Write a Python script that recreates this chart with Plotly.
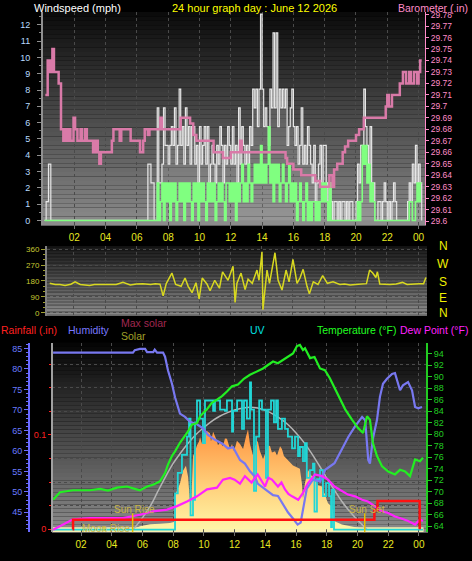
import plotly.graph_objects as go

W, H = 472, 561


def fx(px):
    return px / W


def fy(py):
    return 1 - py / H


# ---------------- data ----------------
X_TICKS = [2, 4, 6, 8, 10, 12, 14, 16, 18, 20, 22, 24]
X_TICK_TEXT = ["02", "04", "06", "08", "10", "12", "14", "16", "18", "20", "22", "00"]

WIND_T = [0.1, 0.2, 0.35, 0.5,
          6.6, 6.7, 6.8, 6.9,
          7.0, 7.1, 7.2, 7.3, 7.4, 7.5, 7.6, 7.7, 7.8, 7.9,
          8.0, 8.1, 8.2, 8.3, 8.4, 8.5, 8.6, 8.7, 8.8, 8.9,
          9.0, 9.1, 9.2, 9.3, 9.4, 9.5, 9.6, 9.7, 9.8, 9.9,
          10.0, 10.1, 10.2, 10.3, 10.4, 10.5, 10.6, 10.7, 10.8, 10.9,
          11.0, 11.1, 11.2, 11.3, 11.4, 11.5, 11.6, 11.7, 11.8, 11.9,
          12.0, 12.1, 12.2, 12.3, 12.4, 12.5, 12.6, 12.7, 12.8, 12.9,
          13.0, 13.1, 13.2, 13.3, 13.4, 13.5, 13.6, 13.7, 13.8, 13.9,
          14.0, 14.1, 14.2, 14.3, 14.4, 14.5, 14.6, 14.7, 14.8, 14.9,
          15.0, 15.1, 15.2, 15.3, 15.4, 15.5, 15.6, 15.7, 15.8, 15.9,
          16.0, 16.1, 16.2, 16.3, 16.4, 16.5, 16.6, 16.7, 16.8, 16.9,
          17.0, 17.1, 17.2, 17.3, 17.4, 17.5, 17.6, 17.7, 17.8, 17.9,
          18.0, 18.1, 18.2, 18.3, 18.4, 18.5, 18.6, 18.7, 18.8, 18.9,
          19.0, 19.1, 19.2, 19.3, 19.4, 19.5, 19.6, 19.7, 19.8, 19.9,
          20.0, 20.1, 20.2, 20.3, 20.4, 20.5, 20.6, 20.7, 20.8, 20.9,
          21.0, 21.1, 21.2, 21.3, 21.4, 21.5, 21.6, 21.7, 21.8, 21.9,
          22.0, 22.1, 22.2, 22.3, 22.4, 22.5, 22.6, 22.7, 22.8, 22.9,
          23.0, 23.1, 23.2, 23.3, 23.4, 23.5, 23.6, 23.7, 23.8, 23.9,
          24.0, 24.1, 24.2]

WIND_GUST = [0, 1.15, 3.45, 0,
             0, 3.45, 3.45, 2.3,
             2.3, 0, 0, 6.9, 2.3, 2.3, 3.45, 6.9, 4.6, 4.6,
             3.45, 4.6, 5.75, 4.6, 6.9, 3.45, 4.6, 8.05, 4.6, 5.75,
             3.45, 6.9, 4.6, 5.75, 3.45, 5.75, 5.75, 3.45, 4.6, 2.3,
             5.75, 3.45, 4.6, 5.75, 3.45, 5.75, 2.3, 3.45, 4.6, 3.45,
             2.3, 4.6, 3.45, 5.75, 4.6, 2.3, 4.6, 3.45, 5.75, 4.6,
             3.45, 5.75, 3.45, 4.6, 2.3, 6.9, 3.45, 5.75, 4.6, 3.45,
             4.6, 3.45, 5.75, 4.6, 8.05, 6.9, 8.05, 5.75, 8.05, 12.65,
             8.05, 5.75, 6.9, 5.75, 4.6, 8.05, 6.9, 11.5, 6.9, 11.5,
             5.75, 8.05, 6.9, 8.05, 6.9, 8.05, 4.6, 5.75, 6.9, 8.05,
             5.75, 4.6, 5.75, 3.45, 4.6, 6.9, 3.45, 4.6, 3.45, 5.75,
             4.6, 3.45, 2.3, 4.6, 1.15, 2.3, 3.45, 4.6, 2.3, 4.6,
             4.6, 2.3, 1.15, 2.3, 1.15, 0, 1.15, 1.15, 0, 1.15,
             0, 1.15, 1.15, 0, 1.15, 0, 1.15, 1.15, 0, 0,
             1.15, 3.45, 2.3, 4.6, 4.6, 8.05, 5.75, 4.6, 3.45, 5.75,
             2.3, 2.3, 0, 0, 1.15, 1.15, 0, 1.15, 2.3, 1.15,
             0, 1.15, 0, 1.15, 2.3, 1.15, 0, 0, 0, 0,
             0, 0, 0, 1.15, 2.3, 1.15, 3.45, 2.3, 4.6, 2.3,
             3.45, 2.3, 0]

WIND_AVG = [0, 0, 0, 0,
            0, 0, 0, 0,
            0, 0, 0, 2.3, 0, 1.15, 2.3, 0, 2.3, 1.15,
            2.3, 0, 2.3, 1.15, 2.3, 0, 1.15, 2.3, 1.15, 2.3,
            0, 2.3, 1.15, 2.3, 1.15, 0, 2.3, 1.15, 2.3, 0,
            2.3, 1.15, 2.3, 1.15, 0, 2.3, 1.15, 2.3, 1.15, 2.3,
            0, 1.15, 2.3, 1.15, 2.3, 1.15, 0, 2.3, 2.3, 1.15,
            2.3, 1.15, 2.3, 0, 2.3, 1.15, 2.3, 3.45, 1.15, 2.3,
            1.15, 3.45, 2.3, 1.15, 2.3, 3.45, 2.3, 3.45, 2.3, 4.6,
            2.3, 3.45, 2.3, 3.45, 5.75, 2.3, 3.45, 1.15, 3.45, 2.3,
            3.45, 1.15, 2.3, 3.45, 2.3, 1.15, 2.3, 3.45, 1.15, 2.3,
            1.15, 2.3, 0, 1.15, 2.3, 1.15, 0, 1.15, 2.3, 0,
            1.15, 0, 1.15, 1.15, 0, 1.15, 0, 1.15, 2.3, 1.15,
            2.3, 1.15, 0, 2.3, 0, 0, 0, 0, 0, 0,
            0, 0, 0, 0, 0, 0, 0, 0, 0, 0,
            0, 1.15, 0, 1.15, 4.6, 3.45, 4.6, 2.3, 3.45, 1.15,
            2.3, 1.15, 0, 0, 0, 0, 0, 0, 0, 0,
            0, 0, 0, 0, 0, 0, 0, 0, 0, 0,
            0, 0, 0, 0, 1.15, 1.15, 0, 0, 1.15, 2.3,
            1.15, 2.3, 2.3]

BARO_T = [0.15, 0.3, 0.45, 0.6, 0.7, 0.9, 1.0, 1.15, 1.3, 1.4,
          1.5, 1.6, 1.75, 1.95, 2.05, 2.2, 2.4, 2.5, 2.7, 2.8,
          3.0, 3.2, 3.35, 3.5, 3.6, 3.7, 4.0, 4.4, 4.5, 4.6,
          4.9, 5.0, 5.3, 5.6, 6.0, 6.2, 6.4, 6.5, 6.7, 6.8,
          7.0, 7.5, 7.6, 7.7, 8.0, 8.5, 8.8, 9.2, 9.4, 9.6,
          9.8, 10.3, 10.9, 11.2, 11.5, 12.0, 12.6, 12.7, 13.0, 14.0,
          15.0, 15.5, 15.6, 16.0, 16.5, 17.0, 17.4, 17.7, 18.0, 18.3,
          18.5, 18.6, 18.8, 19.15, 19.3, 19.5, 20.0, 20.2, 20.5, 21.0,
          21.9, 22.0, 22.1, 22.3, 22.8, 23.0, 23.2, 23.4, 23.5, 23.7,
          23.9, 24.0, 24.1, 24.2]
BARO = [29.71, 29.74, 29.73, 29.75, 29.73, 29.73, 29.72, 29.68, 29.67, 29.68,
        29.67, 29.68, 29.67, 29.69, 29.68, 29.67, 29.68, 29.67, 29.68, 29.67,
        29.67, 29.66, 29.67, 29.66, 29.65, 29.66, 29.66, 29.67, 29.68, 29.68,
        29.67, 29.68, 29.68, 29.67, 29.67, 29.66, 29.67, 29.68, 29.675, 29.68,
        29.68, 29.69, 29.68, 29.68, 29.68, 29.68, 29.69, 29.69, 29.685, 29.675,
        29.67, 29.67, 29.66, 29.66, 29.655, 29.66, 29.67, 29.66, 29.66, 29.66,
        29.66, 29.655, 29.65, 29.645, 29.64, 29.64, 29.635, 29.63, 29.63, 29.64,
        29.63, 29.645, 29.65, 29.66, 29.665, 29.67, 29.675, 29.68, 29.69, 29.69,
        29.70, 29.71, 29.70, 29.71, 29.72, 29.73, 29.72, 29.73, 29.72, 29.73,
        29.72, 29.73, 29.74, 29.74]
BARO_TICKS = [29.60, 29.61, 29.62, 29.63, 29.64, 29.65, 29.66, 29.67, 29.68, 29.69,
              29.70, 29.71, 29.72, 29.73, 29.74, 29.75, 29.76, 29.77, 29.78]
BARO_TICK_TEXT = ["29.6", "29.61", "29.62", "29.63", "29.64", "29.65", "29.66", "29.67",
                  "29.68", "29.69", "29.7", "29.71", "29.72", "29.73", "29.74", "29.75",
                  "29.76", "29.77", "29.78"]

DIR_T = [0.45, 0.8, 1.1, 1.43, 1.8, 2.07, 2.4, 2.7, 3.0, 3.3,
         3.66, 4.0, 4.3, 4.7, 5.13, 5.6, 6.0, 6.4, 6.9, 7.2,
         7.5, 7.7, 7.9, 8.26, 8.5, 8.85, 9.1, 9.3, 9.55, 9.8,
         10.0, 10.2, 10.5, 10.7, 11.0, 11.3, 11.5, 11.85, 12.17, 12.3,
         12.42, 12.68, 12.94, 13.13, 13.4, 13.7, 13.83, 14.02, 14.08, 14.34,
         14.5, 14.85, 15.05, 15.3, 15.56, 15.75, 16.0, 16.26, 16.45, 16.65,
         16.9, 17.05, 17.3, 17.6, 17.9, 18.2, 18.56, 19.0, 19.3, 19.65,
         20.0, 20.3, 20.7, 20.9, 21.1, 21.3, 21.4, 21.55, 21.9, 22.2,
         22.6, 23.0, 23.3, 23.5, 23.8, 24.1, 24.35, 24.5]
WIND_DIR = [167, 160, 160, 155, 162, 175, 160, 158, 155, 160,
            160, 162, 158, 160, 172, 158, 163, 165, 160, 164,
            162, 96, 165, 225, 160, 150, 197, 150, 114, 170,
            79, 197, 163, 125, 184, 139, 232, 184, 264, 58,
            167, 225, 131, 190, 167, 242, 184, 345, 17, 242,
            167, 340, 184, 129, 242, 175, 303, 167, 197, 246,
            150, 107, 175, 160, 210, 167, 175, 160, 163, 158,
            160, 162, 165, 242, 225, 200, 232, 163, 160, 160,
            163, 172, 160, 160, 163, 165, 165, 200]

HUM_T = [0.18, 5.38, 5.5, 5.84, 6.17, 6.3, 6.7, 6.8, 6.95, 7.34,
         7.47, 7.66, 7.92, 8.12, 8.44, 8.77, 9.1, 9.55, 9.94, 10.27,
         10.72, 11.18, 11.57, 11.9, 12.35, 12.67, 13.0, 13.33, 13.5, 13.85,
         14.17, 14.5, 14.82, 15.15, 15.47, 15.8, 16.1, 16.3, 16.45, 16.7,
         17.1, 17.56, 17.9, 18.5, 19.0, 19.4, 19.84, 20.3, 20.5, 20.6,
         20.7, 20.81, 21.0, 21.27, 21.46, 21.66, 21.92, 22.25, 22.44, 22.77,
         22.96, 23.29, 23.55, 23.75, 23.95, 24.2]
HUMIDITY = [84.0, 84.0, 84.6, 84.9, 84.9, 84.1, 84.1, 84.7, 84.0, 84.0,
            83.0, 79.7, 76.4, 73.1, 69.1, 68.3, 67.1, 66.5, 65.5, 63.9,
            62.7, 61.8, 60.6, 60.9, 57.8, 56.9, 55.0, 53.7, 52.0, 51.0,
            50.0, 49.2, 49.0, 47.0, 45.0, 43.5, 42.0, 42.5, 45.7, 50.8,
            53.0, 52.5, 55.4, 57.0, 60.5, 63.4, 66.0, 68.3, 67.5, 63.4,
            57.8, 56.9, 62.9, 67.6, 73.2, 76.4, 77.6, 78.8, 79.0, 74.8,
            76.0, 76.8, 74.8, 70.7, 70.4, 70.7]

TEMP_T = [0.18, 0.63, 1.48, 2.58, 3.24, 3.76, 4.34, 5.0, 5.5, 5.84,
          6.3, 6.69, 7.14, 7.47, 7.66, 7.92, 8.12, 8.44, 8.9, 9.22,
          9.55, 9.75, 10.2, 10.5, 10.85, 11.18, 11.5, 11.83, 12.22, 12.6,
          13.0, 13.4, 13.85, 14.17, 14.5, 14.82, 15.15, 15.47, 15.8, 16.06,
          16.25, 16.45, 16.58, 16.91, 17.2, 17.56, 17.88, 18.2, 18.5, 18.73,
          19.2, 19.64, 20.03, 20.36, 20.62, 20.81, 21.0, 21.27, 21.6, 22.0,
          22.44, 22.77, 23.1, 23.42, 23.75, 24.07, 24.26]
TEMPERATURE = [68.6, 69.9, 70.25, 70.25, 70.5, 70.2, 70.7, 70.9, 70.5, 70.25,
               70.9, 71.2, 71.8, 73.25, 74.7, 76.2, 77.0, 78.5, 80.2, 81.65,
               81.9, 83.1, 84.3, 85.4, 86.0, 86.6, 87.4, 88.3, 88.6, 89.6,
               90.3, 90.8, 91.4, 92.0, 92.6, 92.3, 92.9, 93.5, 94.0, 95.3,
               95.5, 94.6, 94.9, 93.2, 93.4, 91.4, 91.1, 89.7, 88.1, 86.9,
               84.3, 82.5, 81.1, 80.2, 83.1, 82.5, 78.5, 76.2, 74.4, 73.5,
               73.0, 73.8, 73.5, 72.7, 75.6, 75.3, 75.9]

DEW_T = [0.18, 0.63, 1.09, 1.48, 2.58, 3.69, 4.73, 5.84, 6.69, 7.6,
         8.25, 8.9, 9.55, 10.2, 10.85, 11.24, 11.7, 12.0, 12.35, 12.67,
         13.1, 13.5, 13.75, 13.98, 14.2, 14.43, 14.82, 15.05, 15.28, 15.5,
         15.74, 16.14, 16.45, 16.78, 17.0, 17.23, 17.69, 18.08, 18.5, 18.99,
         19.38, 19.84, 20.3, 20.68, 21.14, 21.6, 22.0, 22.44, 22.9, 23.3,
         23.75, 24.07, 24.26]
DEW_POINT = [63.4, 64.0, 64.6, 65.2, 65.4, 65.4, 65.4, 66.0, 66.6, 66.9,
             67.5, 68.3, 69.2, 70.4, 70.7, 72.1, 72.4, 72.1, 71.4, 72.7,
             71.6, 73.0, 71.8, 70.9, 72.4, 72.1, 70.9, 71.6, 70.4, 69.6,
             69.2, 68.6, 69.8, 71.5, 72.2, 73.0, 72.7, 72.1, 70.9, 70.1,
             69.5, 69.2, 68.6, 68.3, 67.5, 66.6, 66.3, 65.7, 65.3, 64.9,
             64.3, 65.2, 64.9]

UV_T = [0.18, 8.12, 8.3, 8.57, 8.9, 9.03, 9.13, 9.29, 9.42, 9.55,
        9.75, 9.94, 10.07, 10.6, 10.72, 11.05, 11.37, 11.5, 11.83, 11.9,
        12.16, 12.48, 12.61, 12.8, 13.0, 13.07, 13.26, 13.4, 13.6, 13.78,
        14.04, 14.17, 14.37, 14.56, 14.7, 14.82, 15.08, 15.28, 15.47, 15.74,
        15.93, 16.13, 16.25, 16.45, 16.58, 16.7, 16.9, 17.1, 17.2, 17.36,
        17.56, 17.75, 17.95, 18.15, 18.28, 18.34, 18.47, 24.26]
UV = [0, 2.8, 4.4, 5.8, 7.2, 8.6, 1.1, 2.3, 8.3, 10.0,
      8.6, 6.7, 10.0, 9.2, 10.0, 9.3, 9.2, 10.0, 7.6, 9.2,
      10.0, 7.8, 10.0, 8.6, 11.4, 9.3, 3.0, 7.2, 10.0, 9.3,
      4.0, 9.3, 10.0, 8.3, 10.0, 7.8, 8.6, 7.8, 7.2, 6.3,
      7.2, 5.7, 6.4, 5.3, 6.7, 4.0, 4.6, 5.1, 1.4, 3.9,
      4.6, 2.6, 3.6, 2.6, 0.2, 3.1, 0, 0]

SOLAR_T = [0.18, 5.38, 5.84, 6.5, 7.14, 7.79, 8.05, 8.12, 8.3, 8.44,
           8.64, 8.83, 8.97, 9.1, 9.19, 9.29, 9.42, 9.55, 9.68, 9.75,
           9.88, 10.0, 10.2, 10.4, 10.46, 10.6, 10.8, 10.92, 11.05, 11.24,
           11.37, 11.5, 11.7, 11.83, 11.96, 12.15, 12.35, 12.55, 12.74, 12.87,
           13.0, 13.2, 13.33, 13.5, 13.65, 13.85, 13.98, 14.17, 14.3, 14.43,
           14.63, 14.76, 14.96, 15.08, 15.21, 15.41, 15.6, 15.8, 15.98, 16.25,
           16.38, 16.45, 16.58, 16.78, 16.97, 17.1, 17.23, 17.43, 17.69, 17.88,
           18.08, 18.34, 18.5, 18.99, 19.84, 20.3, 20.5, 24.26]
SOLAR = [0, 0, 25, 40, 45, 50, 60, 280, 330, 376,
         480, 520, 430, 214, 260, 600, 640, 690, 720, 756,
         700, 790, 807, 788, 720, 800, 740, 690, 713, 680,
         745, 742, 659, 700, 640, 726, 700, 659, 760, 821,
         700, 604, 680, 726, 640, 577, 620, 680, 686, 630,
         640, 604, 680, 659, 600, 577, 550, 523, 510, 496,
         376, 252, 380, 485, 442, 431, 400, 360, 350, 280,
         214, 186, 65, 38, 20, 5, 0, 0]

MAXSOL_T = [5.4, 5.8, 6.2, 6.6, 7.0, 7.5, 8.0, 8.5, 9.0, 9.5,
            10.0, 10.5, 11.0, 11.5, 12.0, 12.5, 13.0, 13.5, 14.0, 14.5,
            15.0, 15.5, 16.0, 16.5, 17.0, 17.5, 18.0, 18.5, 19.0, 19.5,
            20.0, 20.3, 20.6]
MAX_SOLAR = [0, 60, 130, 210, 310, 430, 540, 630, 710, 780,
             835, 885, 925, 955, 978, 993, 1000, 995, 975, 945,
             905, 855, 790, 715, 625, 525, 420, 320, 225, 145,
             75, 38, 0]

RAIN_T = [1.45, 1.48, 21.1, 21.3, 24.05]
RAIN = [0, 0.01, 0.02, 0.03, 0]

SUNRISE_H = 5.36
SUNSET_H = 20.47
MOONRISE_H = 3.5

FONT = "Liberation Sans, Arial, sans-serif"
YELLOW = "#e8e820"

fig = go.Figure()

# ---------------- top panel: wind + barometer ----------------
fig.add_trace(go.Scatter(x=WIND_T, y=WIND_GUST, mode="lines", line_shape="hv",
                         line=dict(color="#e6e6e6", width=1.2), fill="tozeroy",
                         fillcolor="rgba(215,215,215,0.16)", xaxis="x", yaxis="y"))
fig.add_trace(go.Scatter(x=WIND_T, y=WIND_AVG, mode="lines", line_shape="hv",
                         line=dict(color="#80ff80", width=1.6), xaxis="x", yaxis="y"))
fig.add_trace(go.Scatter(x=BARO_T, y=BARO, mode="lines", line_shape="hv",
                         line=dict(color="#d97aa8", width=2.5), xaxis="x", yaxis="y2"))

# ---------------- middle panel: wind direction ----------------
fig.add_trace(go.Scatter(x=DIR_T, y=WIND_DIR, mode="lines",
                         line=dict(color="#d8d820", width=1.5), xaxis="x2", yaxis="y3"))

# ---------------- bottom panel ----------------
fig.add_trace(go.Scatter(x=SOLAR_T, y=SOLAR, mode="lines", line=dict(width=0, color="#ff9a40"),
                         fill="tozeroy",
                         fillgradient=dict(type="vertical", start=0, stop=820,
                                           colorscale=[[0, "#fff6a8"], [0.45, "#ffcf7a"], [1, "#ff9440"]]),
                         xaxis="x3", yaxis="y4"))
fig.add_trace(go.Scatter(x=MAXSOL_T, y=MAX_SOLAR, mode="lines", line_shape="spline",
                         line=dict(color="#b4b4b4", width=1.5), xaxis="x3", yaxis="y4"))
fig.add_trace(go.Scatter(x=UV_T, y=UV, mode="lines", line_shape="hv",
                         line=dict(color="#22d6d6", width=1.8), xaxis="x3", yaxis="y5"))
fig.add_trace(go.Scatter(x=HUM_T, y=HUMIDITY, mode="lines",
                         line=dict(color="#7878f0", width=2.2), xaxis="x3", yaxis="y6"))
fig.add_trace(go.Scatter(x=TEMP_T, y=TEMPERATURE, mode="lines",
                         line=dict(color="#22ee22", width=2.2), xaxis="x3", yaxis="y7"))
fig.add_trace(go.Scatter(x=DEW_T, y=DEW_POINT, mode="lines",
                         line=dict(color="#ff22ff", width=2.2), xaxis="x3", yaxis="y7"))
fig.add_trace(go.Scatter(x=RAIN_T, y=RAIN, mode="lines", line_shape="hv",
                         line=dict(color="#ff1010", width=2.5), xaxis="x3", yaxis="y8"))

# ---------------- axes ----------------
xcommon = dict(tickvals=X_TICKS, ticktext=X_TICK_TEXT, tickfont=dict(color=YELLOW, size=10, family=FONT),
               ticks="outside", ticklen=3, tickcolor="#707070", showgrid=True, gridcolor="#4a4a4a",
               griddash="dot", gridwidth=1, zeroline=False, showline=True, linecolor="#606060")

fig.update_layout(
    xaxis=dict(domain=[fx(43), fx(425)], range=[0, 24.41], anchor="y", **xcommon),
    yaxis=dict(domain=[fy(225), fy(10)], range=[-0.305, 12.79], tickvals=list(range(0, 13)),
               tickfont=dict(color="#b8dcff", size=9, family=FONT), ticks="outside", ticklen=4,
               ticklabelstandoff=5,
               tickcolor="#909090", showgrid=False, zeroline=False, showline=True, linecolor="#909090",
               linewidth=2, minor=dict(dtick=0.5, ticklen=2, tickcolor="#808080", ticks="outside")),
    yaxis2=dict(overlaying="y", side="right", anchor="x", range=[29.5963, 29.7823],
                tickvals=BARO_TICKS, ticktext=BARO_TICK_TEXT,
                tickfont=dict(color="#ff8cc8", size=8.5, family=FONT), ticks="outside", ticklen=3,
                tickcolor="#ff8cc8", showgrid=False, zeroline=False, showline=True, linecolor="#ff8cc8"),
    xaxis2=dict(domain=[fx(47), fx(427)], range=[0.275, 24.57], anchor="y3",
                tickvals=X_TICKS, showticklabels=False, ticks="", showgrid=True, gridcolor="#4a4a4a",
                griddash="dot", zeroline=False, showline=False),
    yaxis3=dict(domain=[fy(316), fy(246)], range=[-16.9, 376.9], anchor="x2",
                tickvals=[0, 90, 180, 270, 360], tickfont=dict(color="#c8c832", size=8, family=FONT),
                ticks="outside", ticklen=4, tickcolor="#a0a030", showgrid=True, gridcolor="#4a4a4a",
                griddash="dot", zeroline=False, showline=True, linecolor="#808080", linewidth=2,
                minor=dict(dtick=30, ticklen=2, tickcolor="#a0a030", ticks="outside")),
    xaxis3=dict(domain=[fx(52), fx(426)], range=[0.11, 24.46], anchor="y4", **xcommon),
    yaxis4=dict(domain=[fy(534), fy(343)], range=[-24.4, 1532], visible=False, anchor="x3"),
    yaxis5=dict(overlaying="y4", range=[-0.2, 14.49], visible=False, anchor="x3"),
    yaxis6=dict(overlaying="y4", anchor="free", position=fx(29), side="left", range=[40.15, 86.45],
                tickvals=[45, 50, 55, 60, 65, 70, 75, 80, 85],
                tickfont=dict(color="#6a7cff", size=9, family=FONT), ticks="outside", ticklen=4,
                tickcolor="#6a6aff", showgrid=False, zeroline=False, showline=True,
                linecolor="#6a6aff", linewidth=2,
                minor=dict(dtick=1, ticklen=2, tickcolor="#6a6aff", ticks="outside")),
    yaxis7=dict(overlaying="y4", side="right", anchor="x3", range=[62.97, 95.9],
                tickvals=list(range(64, 97, 2)),
                tickfont=dict(color="#22cc22", size=9, family=FONT), ticks="outside", ticklen=4,
                tickcolor="#22cc22", showgrid=False, zeroline=False, showline=True,
                linecolor="#22cc22", linewidth=2),
    yaxis8=dict(overlaying="y4", anchor="free", position=fx(52), side="left",
                range=[-0.00316, 0.1979], tickvals=[0, 0.1], ticktext=["0", "0.1"],
                tickfont=dict(color="#ff2020", size=9, family=FONT), ticks="outside", ticklen=3,
                tickcolor="#ff2020", showgrid=False, zeroline=False, showline=True,
                linecolor="#a0a0a0", linewidth=2,
                minor=dict(tickvals=[0.025, 0.05, 0.075, 0.125, 0.15, 0.175], showgrid=True,
                           gridcolor="#4a4a4a", griddash="dot", ticks="outside", ticklen=2,
                           tickcolor="#ff2020")),
)

# ---------------- background gradients ----------------
shapes = []


def gradient(xref, yref, top, bot, n=48):
    for i in range(n):
        t = (i + 0.5) / n
        c = [int(round(b + (a - b) * t)) for a, b in zip(top, bot)]
        shapes.append(dict(type="rect", xref=xref, yref=yref, x0=0, x1=1, y0=i / n, y1=(i + 1) / n,
                           line=dict(width=0), fillcolor="rgb(%d,%d,%d)" % tuple(c), layer="below"))


gradient("x domain", "y domain", (10, 10, 10), (140, 140, 140))
gradient("x2 domain", "y3 domain", (24, 24, 24), (140, 140, 140))
gradient("x3 domain", "y4 domain", (4, 4, 4), (140, 140, 140))

# pale baseline band
shapes.append(dict(type="rect", xref="x3", yref="paper", x0=0.15, x1=24.3, y0=fy(534), y1=fy(529),
                   line=dict(width=0), fillcolor="#f8f0b0", layer="between"))
# sunrise / sunset markers
for h in (SUNRISE_H, SUNSET_H):
    shapes.append(dict(type="line", xref="x3", yref="paper", x0=h, x1=h, y0=fy(534), y1=fy(515),
                       line=dict(color="#e8c000", width=1.5)))
shapes.append(dict(type="line", xref="x3", yref="paper", x0=MOONRISE_H, x1=MOONRISE_H,
                   y0=fy(533), y1=fy(528), line=dict(color="#e8c000", width=1)))
fig.update_layout(shapes=shapes)

# ---------------- text ----------------
ann = []


def text(s, x, y, color, size=11, anchor="left"):
    ann.append(dict(text=s, x=fx(x), y=fy(y), xref="paper", yref="paper", xanchor=anchor,
                    yanchor="middle", showarrow=False, borderpad=0,
                    font=dict(color=color, size=size, family=FONT)))


text("Windspeed (mph)", 33, 6, "#ffffff", 11)
text("24 hour graph day : June 12 2026", 254.5, 6, "#ffff00", 11, "center")
text("Barometer (.in)", 469, 6, "#ff8cc8", 10.5, "right")
text("Rainfall (.in)", 0, 330, "#ff2020", 10.5)
text("Humidity", 67, 330, "#7878ff", 10.5)
text("Max solar", 120, 323, "#a02850", 10.5)
text("Solar", 120, 336, "#a0a028", 10.5)
text("UV", 249, 330, "#00e0e0", 10.5)
text("Temperature (°F)", 316, 330, "#22ff22", 10.5)
text("Dew Point (°F)", 399, 330, "#ff22ff", 10.5)
for lab, yy in zip(["N", "W", "S", "E", "N"], [246, 264, 282, 298, 313]):
    text(lab, 443, yy, "#f0f000", 12, "center")
text("Sun Rise", 113, 511, "#c8b446", 10)
text("Sun Set", 348, 511, "#c8b446", 10)
text("Moon Rise", 81, 530, "#c8b446", 10)

fig.update_layout(annotations=ann, width=W, height=H, margin=dict(l=0, r=0, t=0, b=0),
                  paper_bgcolor="#000000", plot_bgcolor="#000000", showlegend=False)

fig.write_html("out.html", config={"displayModeBar": False},
               post_script="document.body.style.margin='0';document.body.style.background='#000';")
